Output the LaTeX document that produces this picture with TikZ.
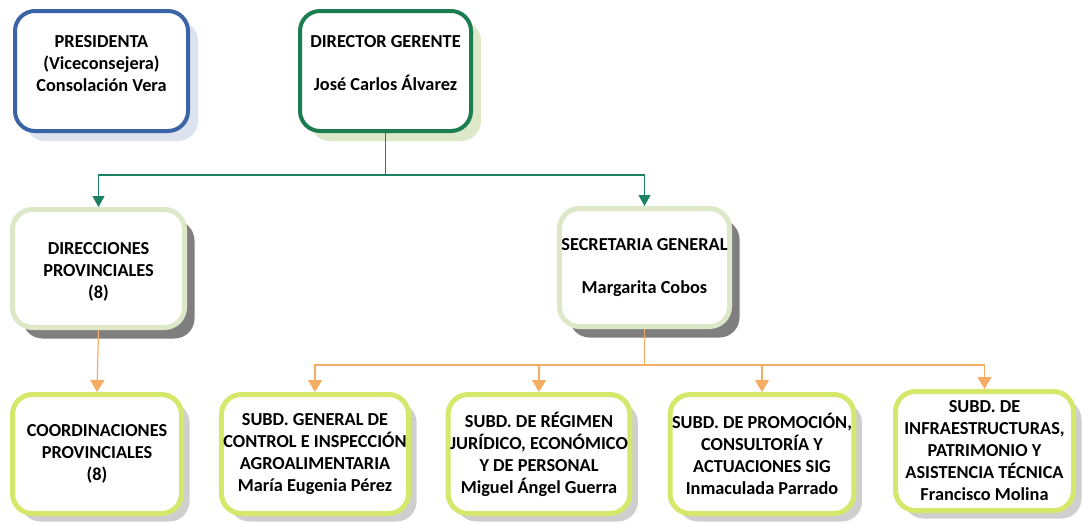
\documentclass[tikz,border=0pt]{standalone}
\usepackage{fontspec}
\setmainfont{Carlito}
\usetikzlibrary{arrows.meta,shadows}
\definecolor{presblue}{HTML}{3A64A6}
\definecolor{presshadow}{HTML}{DCE3EE}
\definecolor{dirgreen}{HTML}{1C7D50}
\definecolor{palegreen}{HTML}{DDE8C8}
\definecolor{limegreen}{HTML}{D5E86C}
\definecolor{darkshadow}{HTML}{7F7F7F}
\definecolor{lightshadow}{HTML}{CFCFCF}
\definecolor{linkgreen}{HTML}{1B8064}
\definecolor{linkorange}{HTML}{F6AC62}
\begin{document}
\begin{tikzpicture}[x=1pt,y=-1pt,
  box/.style={draw, rounded corners=20pt, fill=white, align=center,
    font=\bfseries\fontsize{18.3}{22}\selectfont, inner sep=2pt},
  topbox/.style={box, line width=4pt, minimum width=172pt, minimum height=120pt},
  midbox/.style={box, draw=palegreen, line width=5pt, minimum height=118pt,
    drop shadow={shadow xshift=10pt, shadow yshift=-11pt, fill=darkshadow, opacity=1}},
  lowbox/.style={box, draw=limegreen, line width=5pt, minimum height=119pt,
    drop shadow={shadow xshift=8pt, shadow yshift=-8pt, fill=lightshadow, opacity=1}},
  glink/.style={draw, linkgreen, line width=1.1pt, -{Triangle[width=12pt,length=11pt]}},
  olink/.style={draw, linkorange, line width=1.2pt, -{Triangle[width=14pt,length=12pt]}}]
\useasboundingbox (0,0) rectangle (1082,523);

\node[topbox, draw=presblue, minimum width=173pt,
  drop shadow={shadow xshift=10pt, shadow yshift=-10pt, fill=presshadow, opacity=1}]
  (pres) at (101.5,71) {PRESIDENTA\\(Viceconsejera)\\Consolación Vera\\[-6pt]\mbox{}};
\node[topbox, draw=dirgreen, minimum width=171pt,
  drop shadow={shadow xshift=10pt, shadow yshift=-10pt, fill=palegreen, opacity=1}]
  (dir) at (385.5,71) {DIRECTOR GERENTE\\[21pt]José Carlos Álvarez\\[-6pt]\mbox{}};

\node[midbox, minimum width=172pt] (dp) at (98.5,268.5) {\mbox{}\\[-4pt]DIRECCIONES\\PROVINCIALES\\(8)};
\node[midbox, minimum width=170pt] (sg) at (644.5,267.5) {SECRETARIA GENERAL\\[21pt]Margarita Cobos};

\node[lowbox, minimum width=169pt] (cp) at (97,454) {COORDINACIONES\\PROVINCIALES\\(8)};
\node[lowbox, minimum width=183pt] (sgc) at (315,454) {SUBD. GENERAL DE\\CONTROL E INSPECCIÓN\\AGROALIMENTARIA\\María Eugenia Pérez};
\node[lowbox, minimum width=181pt] (srj) at (539,454) {SUBD. DE RÉGIMEN\\JURÍDICO, ECONÓMICO\\Y DE PERSONAL\\Miguel Ángel Guerra};
\node[lowbox, minimum width=181pt] (spc) at (762,454) {SUBD. DE PROMOCIÓN,\\CONSULTORÍA Y\\ACTUACIONES SIG\\Inmaculada Parrado};
\node[lowbox, minimum width=178pt] (sia) at (984.5,451) {SUBD. DE\\INFRAESTRUCTURAS,\\PATRIMONIO Y\\ASISTENCIA TÉCNICA\\Francisco Molina};

\path[glink] (dir.south) -- ++(0,42) -| (dp.north);
\path[glink] (dir.south) -- ++(0,42) -| (sg.north);
\path[olink] (dp.south) -- (cp.north);
\path[olink] (sg.south) -- ++(0,36) -| (sgc.north);
\path[olink] (sg.south) -- ++(0,36) -| (srj.north);
\path[olink] (sg.south) -- ++(0,36) -| (spc.north);
\path[olink] (sg.south) -- ++(0,36) -| (sia.north);
\end{tikzpicture}
\end{document}
